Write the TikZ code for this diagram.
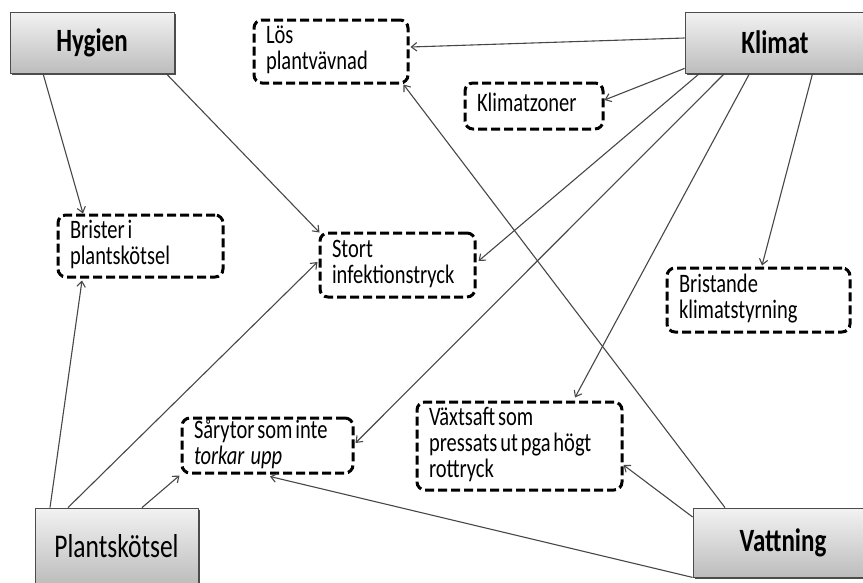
\documentclass[tikz,border=0pt]{standalone}
\usepackage{fontspec}
\setmainfont{Carlito}
\usetikzlibrary{arrows.meta,shadows}
\newcommand{\vtxt}[1]{\scalebox{1}[1.3]{\spaceskip=0.14em\begin{tabular}{@{}l@{}}#1\end{tabular}}}
\newcommand{\vbig}[1]{\scalebox{1}[1.3]{#1}}
\tikzset{
  bigbox/.style={draw=black!70, line width=0.8pt, top color=black!5, bottom color=black!26,
    general shadow={shadow xshift=1.5pt, shadow yshift=-2pt, fill=black!70},
    font=\fontsize{25}{30}\selectfont\bfseries, inner sep=0pt},
  dbox/.style={draw, line width=3pt, dash pattern=on 9pt off 4pt, rounded corners=8pt,
    align=left, inner xsep=12pt, inner ysep=0pt, font=\fontsize{20.5}{19.5}\selectfont},
  arr/.style={draw=black!72, line width=1.1pt, -{Straight Barb[length=5.5pt,width=8.5pt]}}
}
\begin{document}
\begin{tikzpicture}[x=1pt,y=-1pt]
\useasboundingbox (0,0) rectangle (863,582);
% main boxes
\node[bigbox, minimum width=164pt, minimum height=61pt] (hyg) at (92,42.5) {\vbig{Hygien}};
\node[bigbox, minimum width=180pt, minimum height=61pt] (kli) at (775,42.5) {\vbig{Klimat}};
\node[bigbox, minimum width=163pt, minimum height=76pt, font=\fontsize{25.5}{30}\selectfont] (pla) at (116.5,546) {\vbig{Plantskötsel}};
\node[bigbox, minimum width=180pt, minimum height=69pt] (vat) at (783,542.5) {\vbig{Vattning}};
% dashed boxes
\node[dbox, text width=130pt, minimum height=63pt] (los) at (331,51.5) {\vtxt{Lös\\plantvävnad}};
\node[dbox, text width=114pt, minimum height=46pt] (kz) at (534,106) {\vtxt{Klimatzoner}};
\node[dbox, text width=141pt, minimum height=62pt] (bri) at (140.5,246) {\vtxt{Brister i\\plantskötsel}};
\node[dbox, text width=131pt, minimum height=64pt] (sto) at (397.5,265) {\vtxt{Stort\\infektionstryck}};
\node[dbox, text width=159pt, minimum height=64pt] (bst) at (758.5,300) {\vtxt{Bristande\\klimatstyrning}};
\node[dbox, text width=147pt, minimum height=55pt] (sar) at (267.5,445.5) {\vtxt{Sårytor som inte\\\textit{torkar\hspace{0.3em}upp}}};
\node[dbox, text width=181pt, minimum height=88pt] (vax) at (519.5,446) {\vtxt{Växtsaft som\\pressats ut pga högt\\rottryck}};
% connectors
\draw[arr] ([xshift=-49pt]hyg.south) -- ([xshift=-57.5pt]bri.north);
\draw[arr] ([xshift=74pt]hyg.south) -- ([xshift=1pt,yshift=-1pt]sto.north west);
\draw[arr] ([yshift=4.5pt]kli.west) -- ([xshift=1pt,yshift=4.5pt]los.east);
\draw[arr] ([yshift=5pt]kli.south west) -- ([yshift=6pt]kz.east);
\draw[arr] ([xshift=15pt]kli.south west) -- ([xshift=2pt,yshift=4pt]sto.east);
\draw[arr] ([xshift=40pt]kli.south west) -- ([xshift=1pt,yshift=2.5pt]sar.east);
\draw[arr] ([xshift=65pt]kli.south west) -- ([xshift=55.5pt,yshift=3pt]vax.north);
\draw[arr] ([xshift=128pt]kli.south west) -- ([xshift=3.5pt,yshift=1pt]bst.north);
\draw[arr] ([xshift=-66.5pt]pla.north) -- ([xshift=-58.5pt,yshift=-2pt]bri.south);
\draw[arr] ([xshift=-48.5pt]pla.north) -- ([xshift=-1pt,yshift=3pt]sto.west);
\draw[arr] ([xshift=25.5pt]pla.north) -- ([xshift=-1pt,yshift=-1pt]sar.south west);
\draw[arr] ([xshift=-58pt]vat.north) -- ([xshift=-6pt]los.south east);
\draw[arr] ([yshift=25.5pt]vat.west) -- ([yshift=-19pt]vax.east);
\draw[arr] (vat.south west) -- ([xshift=2.5pt,yshift=-2pt]sar.south);
\end{tikzpicture}
\end{document}
